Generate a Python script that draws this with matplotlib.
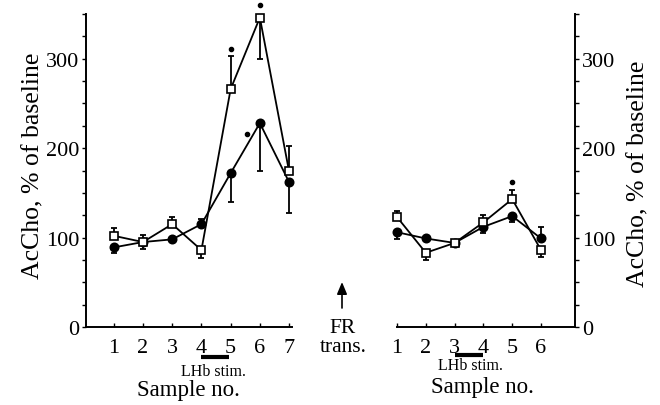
import matplotlib
matplotlib.use("Agg")
import matplotlib.pyplot as plt
import numpy as np

plt.rcParams['font.family'] = ['Liberation Serif', 'DejaVu Serif']

# ---------------- data ----------------
sample_left = [1, 2, 3, 4, 5, 6, 7]
sq_left = [102, 95, 115, 86, 266, 346, 174]
sq_left_sem = [9, 8, 8, 9, 37, 46, 28]
sq_left_dir = [1, 1, 1, -1, 1, -1, 1]
ci_left = [89, 95, 98, 115, 172, 228, 162]
ci_left_sem = [6, 8, 0, 6, 32, 54, 35]
ci_left_dir = [-1, -1, 1, 1, -1, -1, -1]
sig_left_x = [5, 6, 5.55]
sig_left_y = [311, 360, 216]

sample_right = [1, 2, 3, 4, 5, 6]
sq_right = [123, 83, 94, 117, 143, 86]
sq_right_sem = [7, 8, 0, 8, 10, 8]
sq_right_dir = [1, -1, 0, 1, 1, -1]
ci_right = [106, 99, 94, 112, 124, 99]
ci_right_sem = [8, 0, 0, 7, 7, 13]
ci_right_dir = [-1, 0, 0, -1, -1, 1]
sig_right_x = [5]
sig_right_y = [162]

yticks_major = [0, 100, 200, 300]
yticks_minor = np.arange(0, 351, 25)
ylabel = "AcCho, % of baseline"
xlabel = "Sample no."
stim_label = "LHb stim."
stim_left = (4.0, 4.95)
stim_right = (3.0, 4.0)
fr_label = "FR\ntrans."

W, H = 660, 406
fig = plt.figure(figsize=(6.6, 4.06), dpi=100)

def px_axes(l, t, r, b):
    return fig.add_axes([l / W, 1 - b / H, (r - l) / W, (b - t) / H])

axL = px_axes(86, 15, 292, 328)
axR = px_axes(397, 15, 575, 328)

def draw_series(ax, x, y, sem, d, marker, mfc, z):
    x = np.asarray(x, float); y = np.asarray(y, float)
    sem = np.asarray(sem, float); d = np.asarray(d)
    up = np.where(d > 0, sem, 0)
    lo = np.where(d < 0, sem, 0)
    mask = sem > 0
    ax.errorbar(x[mask], y[mask], yerr=[lo[mask], up[mask]], fmt='none',
                ecolor='black', elinewidth=1.3, capsize=2, capthick=1.3,
                zorder=z - 1, clip_on=False)
    ax.plot(x, y, color='black', lw=1.3, marker=marker, ms=5.6 if marker == 's' else 6,
            mfc=mfc, mec='black', mew=1.2, zorder=z, clip_on=False)

for ax, xs, sq, sqs, sqd, ci, cis, cid, sx, sy in [
        (axL, sample_left, sq_left, sq_left_sem, sq_left_dir, ci_left, ci_left_sem, ci_left_dir, sig_left_x, sig_left_y),
        (axR, sample_right, sq_right, sq_right_sem, sq_right_dir, ci_right, ci_right_sem, ci_right_dir, sig_right_x, sig_right_y)]:
    draw_series(ax, xs, ci, cis, cid, 'o', 'black', 4)
    draw_series(ax, xs, sq, sqs, sqd, 's', 'white', 6)
    ax.plot(sx, sy, 'o', color='black', ms=3, ls='none', clip_on=False, zorder=7)
    ax.set_ylim(0, 350)
    ax.set_yticks(yticks_minor, minor=True)
    ax.set_yticks(yticks_major)
    ax.set_xticks(xs)
    ax.set_xticklabels([str(v) for v in xs])
    ax.tick_params(axis='x', direction='in', length=3, width=1, labelsize=16, pad=8)
    ax.tick_params(axis='y', which='both', direction='out', length=3, width=1, labelsize=16, pad=2)
    for s in ax.spines.values():
        s.set_linewidth(1.4)
    ax.set_facecolor('none')

axL.set_xlim(0.05, 7.1)
axL.spines['top'].set_visible(False)
axL.spines['right'].set_visible(False)

axR.set_xlim(1, 7.18)
axR.spines['top'].set_visible(False)
axR.spines['left'].set_visible(False)
axR.yaxis.tick_right()
axR.tick_params(axis='y', which='both', left=False, right=True)

# y labels
fig.text(33 / W, 1 - 166 / H, ylabel, rotation=90, ha='center', va='center', fontsize=18.5)
fig.text(638 / W, 1 - 174 / H, ylabel, rotation=90, ha='center', va='center', fontsize=18.5)

# x labels and stim bars
for ax, (s0, s1), cx_stim, y_bar, y_stim, cx_lab, y_lab in [
        (axL, stim_left, 213, 358, 372, 188, 391),
        (axR, stim_right, 470, 356, 366, 482, 388)]:
    trans = matplotlib.transforms.blended_transform_factory(ax.transData, fig.transFigure)
    ax.plot([s0, s1], [1 - y_bar / H] * 2, color='black', lw=3, transform=trans,
            clip_on=False, solid_capstyle='butt')
    fig.text(cx_stim / W, 1 - y_stim / H, stim_label, ha='center', va='center', fontsize=11.5)
    fig.text(cx_lab / W, 1 - y_lab / H, xlabel, ha='center', va='center', fontsize=16.5)

# FR trans. annotation
fig.text(343 / W, 1 - 338 / H, fr_label, ha='center', va='center', fontsize=15.5,
         linespacing=0.95)
fig.add_artist(matplotlib.patches.FancyArrowPatch(
    (342 / W, 1 - 309 / H), (342 / W, 1 - 283 / H), transform=fig.transFigure,
    arrowstyle='-|>,head_length=0.6,head_width=0.25', mutation_scale=12, color='black',
    lw=1.2, shrinkA=0, shrinkB=0))

fig.savefig("out.png", dpi=100)
